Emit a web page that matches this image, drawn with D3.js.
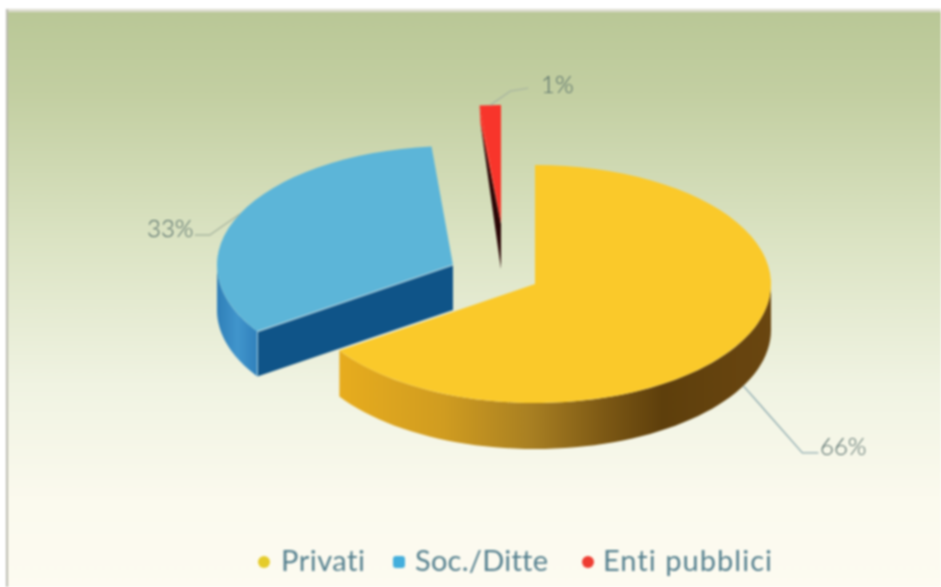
<!DOCTYPE html>
<html>
<head>
<meta charset="utf-8">
<script src="https://cdn.jsdelivr.net/npm/d3@7"></script>
<style>
  html, body { margin: 0; padding: 0; background: #fff; overflow: hidden; }
  svg { display: block; filter: blur(0.8px); }
  text { font-family: Lato, "Open Sans", sans-serif; font-variant-ligatures: none; }
</style>
</head>
<body>
<div id="chart"></div>
<script>
var categories = ["Privati", "Soc./Ditte", "Enti pubblici"];
var values = [65.55, 33, 1.45];

var width = 941, height = 587;
var rx = 236, ry = 119;

// where each exploded slice sits, and its look
var centers = [[535, 284], [453, 265], [501, 224]];
var depths = [46, 45, 45];
var topColors = ["#fac92a", "#5cb5d8", "#f8352b"];
var legendColors = ["#e5cb2a", "#43aedc", "#ee3c32"];
var legendX = [264, 399, 588];
var legendTextX = [281, 415, 603];
var legendTextW = [84, 133, 169];
var labelPos = [[820, 455], [147, 237], [541, 93]];
var leaderBend = [[59, 67, 16, 0], [-30, 21, -15, 0], [20, -14, 18, -3]];

var svg = d3.select("#chart").append("svg")
  .attr("width", width)
  .attr("height", height);

var defs = svg.append("defs");

var bg = defs.append("linearGradient")
  .attr("id", "bg").attr("x1", 0).attr("y1", 0).attr("x2", 0).attr("y2", 1);
[[0, "#b9c796"], [0.15, "#c3cfa2"], [0.4, "#dbe3c3"], [0.65, "#f0f3e2"], [0.85, "#fbfaee"], [1, "#fdfbf1"]]
  .forEach(function(s) { bg.append("stop").attr("offset", s[0]).attr("stop-color", s[1]); });

var yellowWall = defs.append("linearGradient")
  .attr("id", "yellowWall").attr("gradientUnits", "userSpaceOnUse")
  .attr("x1", 335).attr("y1", 0).attr("x2", 771).attr("y2", 0);
[[0, "#e8ad1e"], [0.25, "#d09c20"], [0.45, "#a87f22"], [0.62, "#7c5814"], [0.75, "#5e3f0c"], [1, "#6a4610"]]
  .forEach(function(s) { yellowWall.append("stop").attr("offset", s[0]).attr("stop-color", s[1]); });

var blueWall = defs.append("linearGradient")
  .attr("id", "blueWall").attr("gradientUnits", "userSpaceOnUse")
  .attr("x1", 217).attr("y1", 0).attr("x2", 258).attr("y2", 0);
[[0, "#2f7fb8"], [0.5, "#4195cc"], [1, "#2f80bb"]]
  .forEach(function(s) { blueWall.append("stop").attr("offset", s[0]).attr("stop-color", s[1]); });

// background panel with the thin grey edge on top and left
svg.append("rect").attr("x", 6).attr("y", 9).attr("width", width - 6).attr("height", height - 9).attr("fill", "url(#bg)");
svg.append("rect").attr("x", 6).attr("y", 9).attr("width", width - 6).attr("height", 3).attr("fill", "#dcdccf");
svg.append("rect").attr("x", 6).attr("y", 9).attr("width", 2).attr("height", height - 9).attr("fill", "#b9b9ae");

var pie = d3.pie().sort(null).value(function(d) { return d; });
var slices = pie(values);
var arc = d3.arc().innerRadius(0).outerRadius(rx);
var line = d3.line();

function pt(i, a, drop) {
  return [centers[i][0] + rx * Math.sin(a), centers[i][1] - ry * Math.cos(a) + (drop || 0)];
}

// outer wall between two angles
function wall(i, a0, a1) {
  var angles = d3.range(0, 61).map(function(k) { return a0 + (a1 - a0) * k / 60; });
  var front = angles.map(function(a) { return pt(i, a); });
  var back = angles.slice().reverse().map(function(a) { return pt(i, a, depths[i]); });
  return line(front.concat(back)) + "Z";
}

var g = svg.append("g");

// blue goes behind yellow
[2, 1, 0].forEach(function(i) {
  var s = slices[i];
  var layer = g.append("g").attr("class", "slice-" + i);
  var c = centers[i], d = depths[i];

  if (i === 0) {
    layer.append("path").attr("d", wall(i, Math.PI / 2, s.endAngle)).attr("fill", "url(#yellowWall)");
  }
  if (i === 1) {
    layer.append("path").attr("d", wall(i, s.startAngle, 1.5 * Math.PI)).attr("fill", "url(#blueWall)");
    var tip = pt(i, s.startAngle);
    layer.append("path")
      .attr("d", line([c, tip, [tip[0], tip[1] + d], [c[0], c[1] + d]]) + "Z")
      .attr("fill", "#0f5488");
    layer.append("path")
      .attr("d", line([tip, [tip[0], tip[1] + d]]))
      .attr("stroke", "#a9cfe0").attr("stroke-width", 1).attr("fill", "none");
  }
  if (i === 2) {
    // thin sliver: the outer edge hardly drops, the cut face widens towards the centre
    var outer = pt(i, s.startAngle);
    var lower = [outer[0] + 1, outer[1] + 18];
    layer.append("path")
      .attr("d", line([outer, c, lower]) + "Z")
      .attr("fill", topColors[i]);
    layer.append("path")
      .attr("d", line([lower, c, [c[0], c[1] + d]]) + "Z")
      .attr("fill", "#2a0606");
  }

  layer.append("path")
    .attr("transform", "translate(" + c[0] + "," + c[1] + ") scale(1," + (ry / rx) + ")")
    .attr("d", arc(s))
    .attr("fill", topColors[i]);

  if (i === 1) {
    layer.append("path")
      .attr("d", line([c, pt(i, s.startAngle)]))
      .attr("stroke", "#b5d3dc").attr("stroke-width", 1.2).attr("fill", "none");
  }
});

// leader lines and percentage labels
slices.forEach(function(s, i) {
  var mid = (s.startAngle + s.endAngle) / 2;
  var p0 = pt(i, mid, i === 0 ? depths[i] : 0);
  var b = leaderBend[i];
  var p1 = [p0[0] + b[0], p0[1] + b[1]];
  var p2 = [p1[0] + b[2], p1[1] + b[3]];
  svg.append("path")
    .attr("d", line([p0, p1, p2]))
    .attr("fill", "none")
    .attr("stroke", i === 0 ? "#8fabb0" : "#a9b6a0")
    .attr("stroke-width", 1.4);
  svg.append("text")
    .attr("x", labelPos[i][0])
    .attr("y", labelPos[i][1])
    .attr("font-size", 24)
    .attr("font-weight", 300)
    .attr("fill", "#4f6866")
    .text(Math.round(s.data) + "%");
});

// legend
categories.forEach(function(name, i) {
  svg.append("rect")
    .attr("x", legendX[i] - 6)
    .attr("y", 556)
    .attr("width", 12)
    .attr("height", 12)
    .attr("rx", i === 1 ? 3 : 6)
    .attr("fill", legendColors[i]);
  svg.append("text")
    .attr("x", legendTextX[i])
    .attr("y", 571)
    .attr("font-size", 29)
    .attr("textLength", legendTextW[i])
    .attr("lengthAdjust", "spacing")
    .attr("fill", "#55808f")
    .text(name);
});
</script>
</body>
</html>
